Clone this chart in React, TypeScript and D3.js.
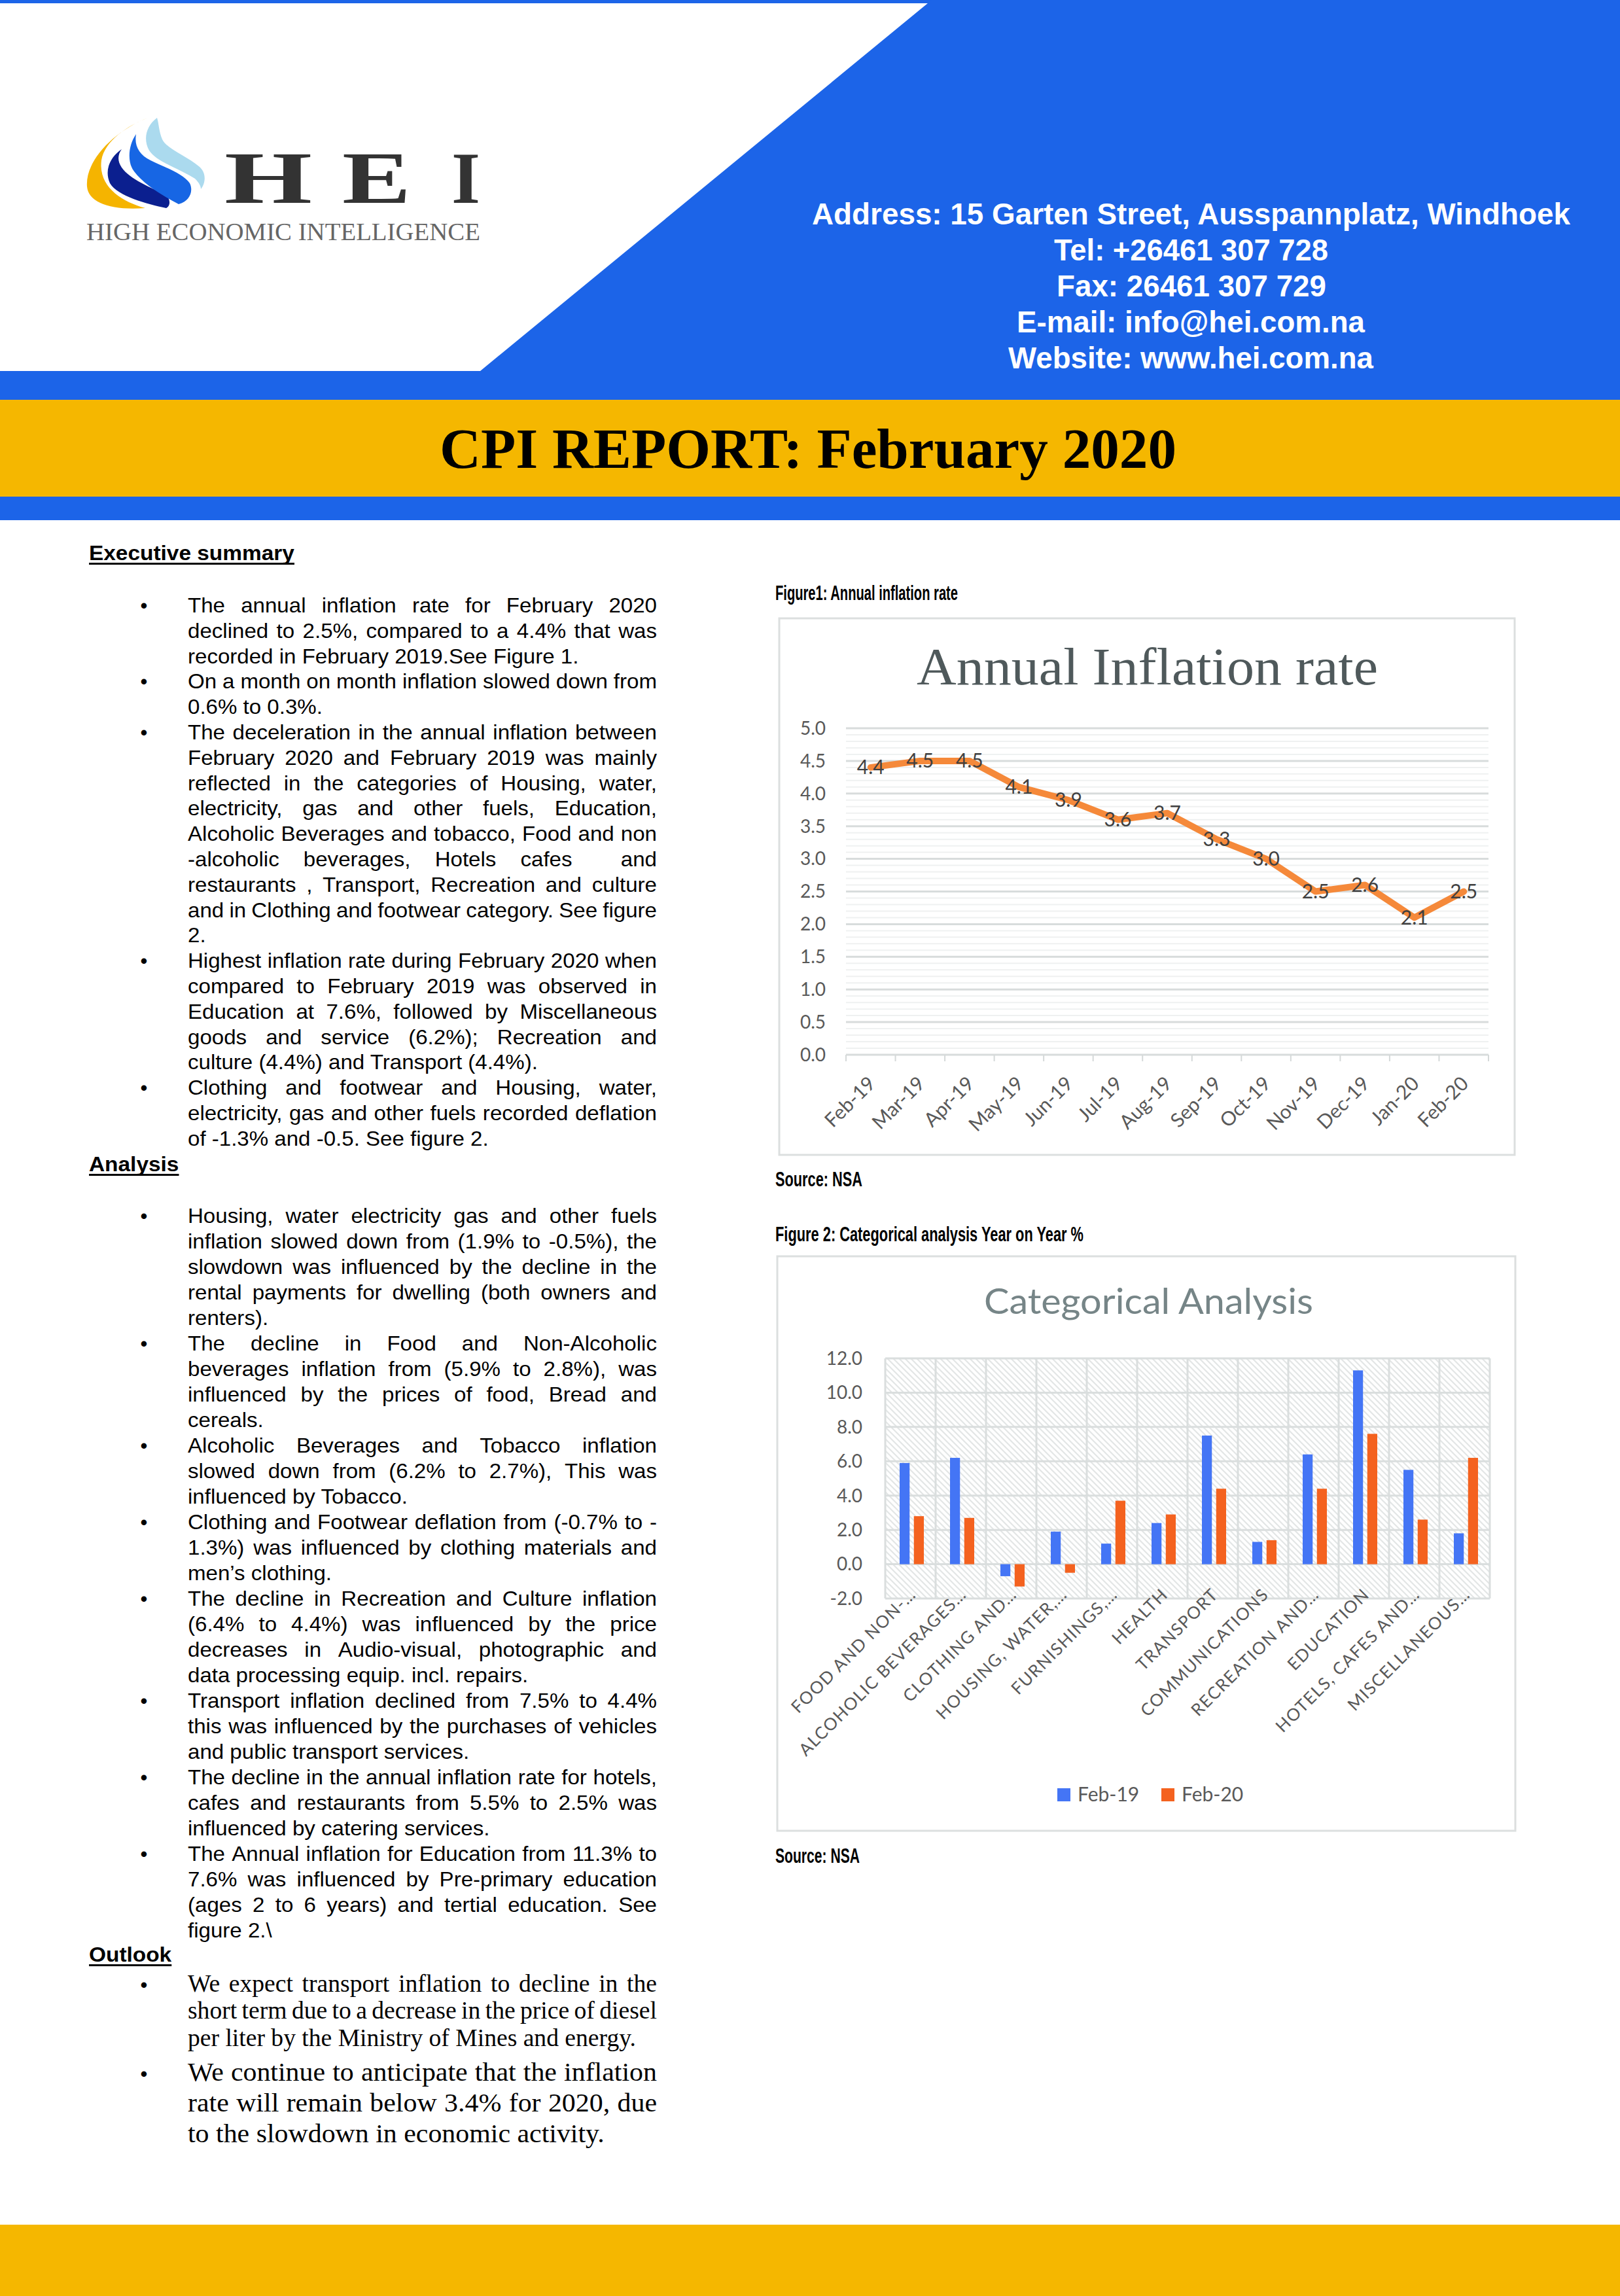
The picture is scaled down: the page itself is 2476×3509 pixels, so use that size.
import React from 'react';
import * as d3 from 'd3';

const PAGE_W = 2476;
const PAGE_H = 3509;

// ---------- Figure 1 data ----------
const months = ['Feb-19', 'Mar-19', 'Apr-19', 'May-19', 'Jun-19', 'Jul-19', 'Aug-19', 'Sep-19', 'Oct-19', 'Nov-19', 'Dec-19', 'Jan-20', 'Feb-20'];
const inflationRate = [4.4, 4.5, 4.5, 4.1, 3.9, 3.6, 3.7, 3.3, 3.0, 2.5, 2.6, 2.1, 2.5];
const inflationTicks = [0, 0.5, 1, 1.5, 2, 2.5, 3, 3.5, 4, 4.5, 5];

// ---------- Figure 2 data ----------
const categories = ['FOOD AND NON-…', 'ALCOHOLIC BEVERAGES…', 'CLOTHING AND…', 'HOUSING, WATER,…', 'FURNISHINGS,…', 'HEALTH', 'TRANSPORT', 'COMMUNICATIONS', 'RECREATION AND…', 'EDUCATION', 'HOTELS, CAFES AND…', 'MISCELLANEOUS…'];
const seriesNames = ['Feb-19', 'Feb-20'];
const feb19 = [5.9, 6.2, -0.7, 1.9, 1.2, 2.4, 7.5, 1.3, 6.4, 11.3, 5.5, 1.8];
const feb20 = [2.8, 2.7, -1.3, -0.5, 3.7, 2.9, 4.4, 1.4, 4.4, 7.6, 2.6, 6.2];
const categoryTicks = [-2, 0, 2, 4, 6, 8, 10, 12];
const seriesColors = ['#4475F5', '#F4621F'];

// ---------- Header text ----------
const addressLines = [
  'Address: 15 Garten Street, Ausspannplatz, Windhoek',
  'Tel: +26461 307 728',
  'Fax: 26461 307 729',
  'E-mail: info@hei.com.na',
  'Website: www.hei.com.na',
];

// ---------- Body text ----------
const execSummary = [
  ['The annual inflation rate for February 2020', 'declined to 2.5%, compared to a 4.4% that was', 'recorded in February 2019.See Figure 1.'],
  ['On a month on month inflation slowed down from', '0.6% to 0.3%.'],
  ['The deceleration in the annual inflation between', 'February 2020 and February 2019 was mainly', 'reflected in the categories of Housing, water,', 'electricity, gas and other fuels, Education,', 'Alcoholic Beverages and tobacco, Food and non', '-alcoholic beverages, Hotels cafes  and', 'restaurants , Transport, Recreation and culture', 'and in Clothing and footwear category. See figure', '2.'],
  ['Highest inflation rate during February 2020 when', 'compared to February 2019 was observed in', 'Education at 7.6%, followed by Miscellaneous', 'goods and service (6.2%); Recreation and', 'culture (4.4%) and Transport (4.4%).'],
  ['Clothing and footwear and Housing, water,', 'electricity, gas and other fuels recorded deflation', 'of -1.3% and -0.5. See figure 2.'],
];
const analysis = [
  ['Housing, water electricity gas and other fuels', 'inflation slowed down from (1.9% to -0.5%), the', 'slowdown was influenced by the decline in the', 'rental payments for dwelling (both owners and', 'renters).'],
  ['The decline in Food and Non-Alcoholic', 'beverages inflation from (5.9% to 2.8%), was', 'influenced by the prices of food, Bread and', 'cereals.'],
  ['Alcoholic Beverages and Tobacco inflation', 'slowed down from (6.2% to 2.7%), This was', 'influenced by Tobacco.'],
  ['Clothing and Footwear deflation from (-0.7% to -', '1.3%) was influenced by clothing materials and', 'men’s clothing.'],
  ['The decline in Recreation and Culture inflation', '(6.4% to 4.4%) was influenced by the price', 'decreases in Audio-visual, photographic and', 'data processing equip. incl. repairs.'],
  ['Transport inflation declined from 7.5% to 4.4%', 'this was influenced by the purchases of vehicles', 'and public transport services.'],
  ['The decline in the annual inflation rate for hotels,', 'cafes and restaurants from 5.5% to 2.5% was', 'influenced by catering services.'],
  ['The Annual inflation for Education from 11.3% to', '7.6% was influenced by Pre-primary education', '(ages 2 to 6 years) and tertial education. See', 'figure 2.\\'],
];
const outlook1 = ['We expect transport inflation to decline in the', 'short term due to a decrease in the price of diesel', 'per liter by the Ministry of Mines and energy.'];
const outlook2 = ['We continue to anticipate that the inflation', 'rate will remain below 3.4% for 2020, due', 'to the slowdown in economic activity.'];

const SANS = "'Liberation Sans', Arial, sans-serif";
const SERIF = "'Liberation Serif', 'Times New Roman', serif";
const CHART = "Lato, 'Open Sans', sans-serif";

const BLUE = '#1C64E8';
const YELLOW = '#F5B700';
const TEXT_X = 287;
const TEXT_W = 717;

let _ctx: CanvasRenderingContext2D | null = null;
function measure(text: string, font: string): number {
  if (!_ctx) _ctx = document.createElement('canvas').getContext('2d');
  if (!_ctx) return text.length * 15;
  _ctx.font = font;
  return _ctx.measureText(text).width;
}

const fmtNum = (f: string) => {
  const g = d3.format(f);
  return (v: number) => g(v).replace('\u2212', '-');
};

function JLine({ text, x, y, width, size, family, weight = 'normal', justify }: any) {
  const font = `${weight} ${size}px ${family}`;
  const natural = measure(text, font);
  const common = { fontFamily: family, fontSize: size, fontWeight: weight, fill: '#000' } as any;
  const tokens = text.split(' ');
  if (!justify || tokens.length < 2) {
    if (natural > width) {
      return <text x={x} y={y} {...common} textLength={width} lengthAdjust="spacingAndGlyphs" style={{ whiteSpace: 'pre' }}>{text}</text>;
    }
    return <text x={x} y={y} {...common} style={{ whiteSpace: 'pre' }}>{text}</text>;
  }
  const widths = tokens.map((t: string) => (t ? measure(t, font) : 0));
  const total = widths.reduce((a: number, b: number) => a + b, 0);
  const gap = (width - total) / (tokens.length - 1);
  const spaceW = measure(' ', font);
  if (gap < spaceW * 0.55) {
    return <text x={x} y={y} {...common} textLength={width} lengthAdjust="spacingAndGlyphs" style={{ whiteSpace: 'pre' }}>{text}</text>;
  }
  let cx = x;
  const els: any[] = [];
  tokens.forEach((t: string, i: number) => {
    if (t) els.push(<text key={i} x={cx} y={y} {...common}>{t}</text>);
    cx += widths[i] + gap;
  });
  return <g>{els}</g>;
}

function Section({ bullets, y0, step, size, family, sx, bulletSize }: any) {
  const out: any[] = [];
  const dots: any[] = [];
  let i = 0;
  bullets.forEach((b: string[], bi: number) => {
    b.forEach((ln, j) => {
      const y = y0 + i * step;
      if (j === 0) {
        dots.push(<text key={`b${bi}`} x={220} y={y} textAnchor="middle" fontFamily={SANS} fontSize={bulletSize} fill="#000">•</text>);
      }
      out.push(<JLine key={`l${bi}-${j}`} text={ln} x={TEXT_X} y={y} width={TEXT_W / sx} size={size} family={family} justify={j < b.length - 1} />);
      i++;
    });
  });
  return (
    <g>
      {dots}
      <g transform={`translate(${TEXT_X},0) scale(${sx},1) translate(${-TEXT_X},0)`}>{out}</g>
    </g>
  );
}

function Heading({ text, y, sx }: any) {
  const size = 31;
  const w = measure(text, `bold ${size}px ${SANS}`);
  return (
    <g transform={`translate(136,0) scale(${sx},1) translate(-136,0)`}>
      <text x={136} y={y} fontFamily={SANS} fontSize={size} fontWeight="bold" fill="#000">{text}</text>
      <rect x={136} y={y + 4} width={w} height={3} fill="#000" />
    </g>
  );
}

function Header() {
  const addrX = [1241, 1611, 1615, 1554, 1541];
  const addrW = [1159, 419, 412, 532, 558];
  return (
    <g>
      <rect x={0} y={0} width={PAGE_W} height={5} fill={BLUE} />
      <polygon points={`1424,0 ${PAGE_W},0 ${PAGE_W},611 0,611 0,567 734,567`} fill={BLUE} />
      <rect x={0} y={611} width={PAGE_W} height={148} fill={YELLOW} />
      <rect x={0} y={759} width={PAGE_W} height={36} fill={BLUE} />
      {/* logo flame */}
      <path d="M226,180 C175,200 130,245 133,285 C135,310 170,322 222,318 C185,308 150,285 155,245 C160,215 195,192 226,180 Z" fill="#F5B400" />
      <path d="M186,228 C166,242 160,262 168,280 C180,300 225,312 254,318 C262,314 260,302 252,297 C232,287 198,274 186,256 C179,246 180,236 186,228 Z" fill="#0B1F8F" />
      <path d="M208,205 C196,222 194,248 205,262 C220,282 250,300 273,312 C290,308 296,292 290,280 C280,265 250,255 230,245 C212,236 205,222 208,205 Z" fill="#1766E4" />
      <path d="M240,180 C224,192 218,212 228,230 C240,248 275,258 298,273 C305,280 307,285 307,289 C314,280 316,265 305,255 C285,238 255,228 248,213 C243,202 243,190 240,180 Z" fill="#ABDAEE" />
      <text x={343} y={310} fontFamily={SERIF} fontWeight="bold" fontSize={112} fill="#333" textLength={134} lengthAdjust="spacingAndGlyphs">H</text>
      <text x={523} y={310} fontFamily={SERIF} fontWeight="bold" fontSize={112} fill="#333" textLength={105} lengthAdjust="spacingAndGlyphs">E</text>
      <text x={690} y={310} fontFamily={SERIF} fontWeight="bold" fontSize={112} fill="#333" textLength={44} lengthAdjust="spacingAndGlyphs">I</text>
      <text x={132} y={367} fontFamily={SERIF} fontSize={38} fill="#666" textLength={602} lengthAdjust="spacingAndGlyphs">HIGH ECONOMIC INTELLIGENCE</text>
      {addressLines.map((t, i) => (
        <text key={i} x={addrX[i]} y={343 + i * 55} fontFamily={SANS} fontWeight="bold" fontSize={46} fill="#fff" textLength={addrW[i]} lengthAdjust="spacingAndGlyphs">{t}</text>
      ))}
      <text x={672} y={715} fontFamily={SERIF} fontWeight="bold" fontSize={86} fill="#000" textLength={1126} lengthAdjust="spacingAndGlyphs">CPI REPORT: February 2020</text>
    </g>
  );
}

function Caption({ text, y, w }: any) {
  return <text x={1185} y={y} fontFamily={SANS} fontWeight="bold" fontSize={32} fill="#000" textLength={w} lengthAdjust="spacingAndGlyphs">{text}</text>;
}

function Figure1() {
  const x = d3.scaleBand<string>().domain(months).range([1293, 2275]);
  const y = d3.scaleLinear().domain([0, 5]).range([1612, 1113]);
  const cx = (m: string) => (x(m) as number) + x.bandwidth() / 2;
  const minor = d3.range(1, 50).map((v) => v / 10).filter((v) => Math.round(v * 10) % 5 !== 0);
  const line = d3.line<number>().x((_, i) => cx(months[i])).y((d) => y(d));
  const fmt = fmtNum('.1f');
  const [x0, x1] = x.range();
  const edges = months.map((m) => x(m) as number).concat([x1]);
  return (
    <g>
      <Caption text="Figure1: Annual inflation rate" y={917} w={279} />
      <rect x={1191} y={945} width={1124} height={820} fill="#fff" stroke="#dcdfdf" strokeWidth={3} />
      <text x={1401} y={1046} fontFamily={SERIF} fontSize={80} fill="#4f595b" textLength={705} lengthAdjust="spacingAndGlyphs">Annual Inflation rate</text>
      {minor.map((v) => (
        <line key={`m${v}`} x1={x0} x2={x1} y1={y(v)} y2={y(v)} stroke="#eff1f1" strokeWidth={2} />
      ))}
      {inflationTicks.map((v) => (
        <g key={`t${v}`}>
          <line x1={x0} x2={x1} y1={y(v)} y2={y(v)} stroke="#d8dcdc" strokeWidth={3} />
          <text x={1262} y={y(v)} dy="0.35em" textAnchor="end" fontFamily={CHART} fontSize={28} fill="#595959">{fmt(v)}</text>
        </g>
      ))}
      {edges.map((e, i) => (
        <line key={`e${i}`} x1={e} x2={e} y1={y(0)} y2={y(0) + 10} stroke="#d5d9d9" strokeWidth={2} />
      ))}
      <path d={line(inflationRate) || ''} fill="none" stroke="#F5893A" strokeWidth={10} strokeLinejoin="round" strokeLinecap="round" />
      {inflationRate.map((v, i) => (
        <text key={`d${i}`} x={cx(months[i])} y={y(v)} dy="0.35em" textAnchor="middle" fontFamily={CHART} fontSize={30} fill="#404040">{fmt(v)}</text>
      ))}
      {months.map((m) => (
        <text key={m} transform={`translate(${cx(m) + 9},${y(0) + 46}) rotate(-45)`} textAnchor="end" fontFamily={CHART} fontSize={30} fill="#595959">{m}</text>
      ))}
      <Caption text="Source: NSA" y={1813} w={133} />
    </g>
  );
}

function Figure2() {
  const x = d3.scaleBand<string>().domain(categories).range([1353, 2277]);
  const xs = d3.scaleBand<string>().domain(seriesNames).range([22, 59]).paddingInner(0.3);
  const y = d3.scaleLinear().domain([-2, 12]).range([2443, 2076]);
  const fmt = fmtNum('.1f');
  const [x0, x1] = x.range();
  const edges = categories.map((c) => x(c) as number).concat([x1]);
  const series = [feb19, feb20];
  return (
    <g>
      <defs>
        <pattern id="hatch" patternUnits="userSpaceOnUse" width={9} height={9}>
          <rect width={9} height={9} fill="#fff" />
          <path d="M0,0 L9,9 M-3,6 L3,12 M6,-3 L12,3" stroke="#e3e6e6" strokeWidth={2.2} />
        </pattern>
      </defs>
      <Caption text="Figure 2: Categorical analysis Year on Year %" y={1897} w={471} />
      <rect x={1188} y={1920} width={1128} height={878} fill="#fff" stroke="#dcdfdf" strokeWidth={3} />
      <text x={1504} y={2008} fontFamily={CHART} fontSize={54} fill="#768587" textLength={503} lengthAdjust="spacingAndGlyphs">Categorical Analysis</text>
      <rect x={x0} y={y(12)} width={x1 - x0} height={y(-2) - y(12)} fill="url(#hatch)" />
      {edges.map((e, i) => (
        <line key={`v${i}`} x1={e} x2={e} y1={y(12)} y2={y(-2)} stroke="#dadede" strokeWidth={3} />
      ))}
      {categoryTicks.map((v) => (
        <g key={`h${v}`}>
          <line x1={x0} x2={x1} y1={y(v)} y2={y(v)} stroke="#dadede" strokeWidth={3} />
          <text x={1318} y={y(v)} dy="0.35em" textAnchor="end" fontFamily={CHART} fontSize={28} fill="#595959">{fmt(v)}</text>
        </g>
      ))}
      {categories.map((c, ci) => (
        <g key={c}>
          {series.map((vals, si) => {
            const v = vals[ci];
            const bx = (x(c) as number) + (xs(seriesNames[si]) as number);
            return <rect key={si} x={bx} y={Math.min(y(v), y(0))} width={xs.bandwidth()} height={Math.abs(y(v) - y(0))} fill={seriesColors[si]} />;
          })}
          <text transform={`translate(${(x(c) as number) + x.bandwidth() / 2 + 10},${y(0) + 48}) rotate(-45)`} textAnchor="end" fontFamily={CHART} fontSize={26} letterSpacing={1.5} fill="#595959">{c}</text>
        </g>
      ))}
      {seriesNames.map((s, i) => (
        <g key={s}>
          <rect x={1616 + i * 159} y={2733} width={20} height={20} fill={seriesColors[i]} />
          <text x={1647 + i * 159} y={2753} fontFamily={CHART} fontSize={30} fill="#595959">{s}</text>
        </g>
      ))}
      <Caption text="Source: NSA" y={2847} w={129} />
    </g>
  );
}

function Body() {
  const bodyFont = `normal 31px ${SANS}`;
  // horizontal scale fitted from paragraph end lines (ref widths)
  const refEnds: [string, number][] = [
    ['recorded in February 2019.See Figure 1.', 602],
    ['0.6% to 0.3%.', 203],
    ['of -1.3% and -0.5. See figure 2.', 463],
  ];
  const sx = d3.mean(refEnds, ([t, w]) => w / measure(t, bodyFont)) || 1;
  const sxH = 314 / measure('Executive summary', `bold 31px ${SANS}`);
  const sxO1 = 685 / measure(outlook1[2], `normal 38px ${SERIF}`);
  const sxO2 = 637 / measure(outlook2[2], `normal 40px ${SERIF}`);
  return (
    <g>
      <Heading text="Executive summary" y={856} sx={sxH} />
      <Section bullets={execSummary} y0={936} step={38.8} size={31} family={SANS} sx={sx} bulletSize={31} />
      <Heading text="Analysis" y={1790} sx={sxH} />
      <Section bullets={analysis} y0={1869} step={39.0} size={31} family={SANS} sx={sx} bulletSize={31} />
      <Heading text="Outlook" y={2998} sx={sxH} />
      <Section bullets={[outlook1]} y0={3044} step={41.3} size={38} family={SERIF} sx={sxO1} bulletSize={31} />
      <Section bullets={[outlook2]} y0={3180} step={47} size={40} family={SERIF} sx={sxO2} bulletSize={31} />
    </g>
  );
}

export default function App() {
  return (
    <svg width={PAGE_W} height={PAGE_H} viewBox={`0 0 ${PAGE_W} ${PAGE_H}`} style={{ position: 'absolute', left: 0, top: 0, display: 'block' }}>
      <rect x={0} y={0} width={PAGE_W} height={PAGE_H} fill="#fff" />
      <Header />
      <Body />
      <Figure1 />
      <Figure2 />
      <rect x={0} y={3400} width={PAGE_W} height={PAGE_H - 3400} fill={YELLOW} />
    </svg>
  );
}
